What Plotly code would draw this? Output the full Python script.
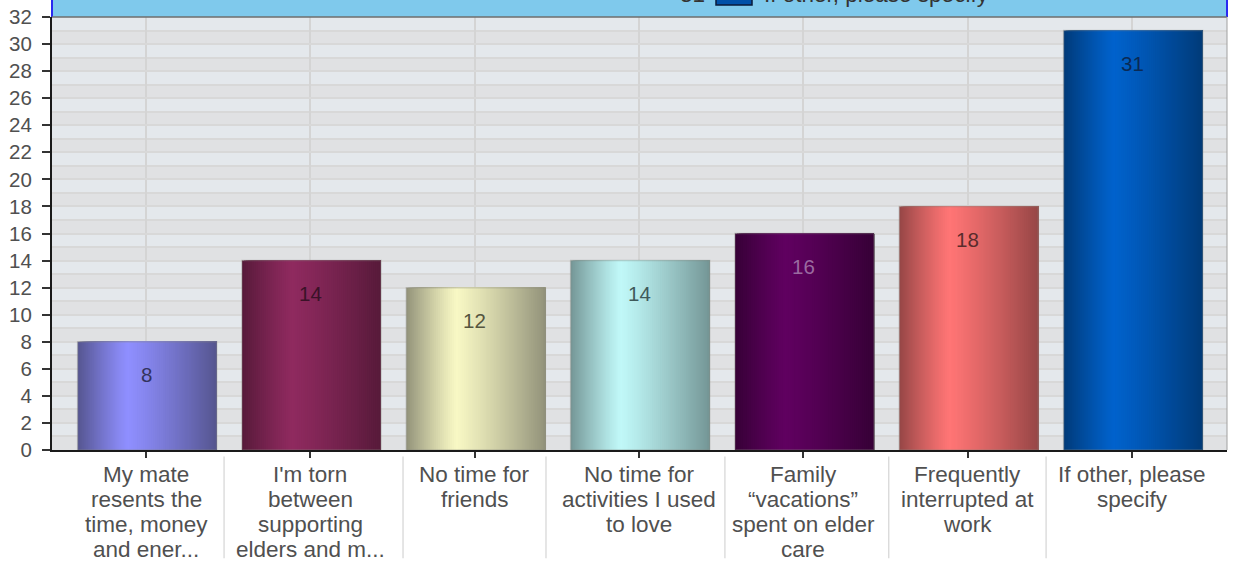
import plotly.graph_objects as go

categories = ["My mate<br>resents the<br>time, money<br>and ener...",
              "I'm torn<br>between<br>supporting<br>elders and m...",
              "No time for<br>friends",
              "No time for<br>activities I used<br>to love",
              "Family<br>“vacations”<br>spent on elder<br>care",
              "Frequently<br>interrupted at<br>work",
              "If other, please<br>specify"]
values = [8, 14, 12, 14, 16, 18, 31]
bright = ["#8F8FFF", "#8F2A5F", "#F8F8C4", "#C0F8F8", "#600060", "#FF7575", "#0062CC"]
dark = ["#55558F", "#571A3A", "#92927A", "#749696", "#360036", "#964646", "#003A78"]
label_colors = ["#33335E", "#3A1228", "#55553F", "#3F5A5A", "#9A6AA0", "#5A2C2C", "#0A2A55"]
y_ticks = list(range(0, 33, 2))
separators = [0.475, 1.564, 2.434, 3.523, 4.52, 5.477]
legend_count = "31"
legend_label = "If other, please specify"

FONT = "Liberation Sans, Arial, sans-serif"
TEXT = "#505050"
W, H = 1235, 563
L, R, T, B = 52, 8, 17, 113
PW = W - L - R
BAR = 0.846
N = 70


def hex2rgb(h):
    return tuple(int(h[i:i + 2], 16) for i in (1, 3, 5))


def mix(a, b, t):
    ca, cb = hex2rgb(a), hex2rgb(b)
    return "rgb(%d,%d,%d)" % tuple(round(x + (y - x) * t) for x, y in zip(ca, cb))


def strip_color(i, f):
    # highlight about a third of the way across each cylinder
    peak = 0.36
    t = (peak - f) / peak if f < peak else (f - peak) / (1 - peak)
    return mix(bright[i], dark[i], t ** 1.15)


fig = go.Figure()
# painted left to right: each strip runs to the bar's right edge, so no seams appear
for s in range(N):
    f = (s + 0.5) / N
    fig.add_bar(x=list(range(7)), y=values,
                width=BAR * (1 - s / N),
                offset=-0.416 + BAR * s / N,
                marker=dict(color=[strip_color(i, f) for i in range(7)], line_width=0),
                hoverinfo="skip", showlegend=False)
# thin soft outline of each bar
fig.add_bar(x=list(range(7)), y=values, width=BAR, offset=-0.416,
            marker=dict(color="rgba(0,0,0,0)", line=dict(color="rgba(135,135,125,0.35)", width=1.5)),
            hoverinfo="skip", showlegend=False)

shapes = []
for k in range(32):
    shapes.append(dict(type="rect", xref="paper", yref="y", x0=0, x1=1, y0=k, y1=k + 1,
                       fillcolor="#E4E8EC" if k % 2 else "#E0E1E3", line_width=0, layer="below"))
# blue legend panel clipped by the top of the picture
shapes.append(dict(type="rect", xref="paper", yref="paper", x0=0, x1=1, y0=1, y1=1.1,
                   fillcolor="#7FC9EC", line_width=0))
for x in (0, 1):
    shapes.append(dict(type="line", xref="paper", yref="paper", x0=x, x1=x, y0=1, y1=1.1,
                       line=dict(color="#2A2AF0", width=2)))
shapes.append(dict(type="line", xref="paper", yref="paper", x0=0, x1=1, y0=1, y1=1,
                   line=dict(color="#6E6E6E", width=1.5)))
shapes.append(dict(type="line", xref="paper", yref="paper", x0=1, x1=1, y0=0, y1=1,
                   line=dict(color="#A0A0A0", width=1)))
# legend swatch
shapes.append(dict(type="rect", xref="paper", yref="paper",
                   x0=(716 - L) / PW, x1=(752 - L) / PW,
                   y0=1 + 12 / (H - T - B), y1=1.1,
                   fillcolor="#0050A8", line=dict(color="#0A1A3A", width=1.5)))
# separators between category labels
for s in separators:
    shapes.append(dict(type="line", xref="x", yref="paper", x0=s, x1=s, y0=-0.015, y1=-0.25,
                       line=dict(color="rgba(170,170,170,0.6)", width=1)))
fig.update_layout(shapes=shapes)

annotations = [dict(x=i, y=v, xref="x", yref="y", text=str(v), showarrow=False, yshift=-33,
                    font=dict(family=FONT, size=20.5, color=label_colors[i]))
               for i, v in enumerate(values)]
annotations.append(dict(x=(680 - L) / PW, y=1, xref="paper", yref="paper", xanchor="left", yanchor="bottom",
                        yshift=8, xshift=-2, text=legend_count, showarrow=False,
                        font=dict(family=FONT, size=22.5, color="#333333")))
annotations.append(dict(x=(764 - L) / PW, y=1, xref="paper", yref="paper", xanchor="left", yanchor="bottom",
                        yshift=8, xshift=-2, text=legend_label, showarrow=False,
                        font=dict(family=FONT, size=22.5, color="#333333")))
# category labels, one line at a time: the reference's line pitch is tighter than Plotly's
for i, cat in enumerate(categories):
    for j, line in enumerate(cat.split("<br>")):
        annotations.append(dict(x=i, y=0, xref="x", yref="paper", yanchor="middle", text=line,
                                showarrow=False, yshift=-24 - 25 * j,
                                font=dict(family=FONT, size=22.5, color=TEXT)))

fig.update_layout(
    width=W, height=H, autosize=False,
    margin=dict(l=L, r=R, t=T, b=B, pad=0, autoexpand=False),
    paper_bgcolor="white", plot_bgcolor="#E2E4E7",
    barmode="overlay", showlegend=False,
    annotations=annotations,
    font=dict(family=FONT, size=20.5, color=TEXT),
    xaxis=dict(range=[-0.572, 6.578], tickmode="array", tickvals=list(range(7)), ticktext=categories,
               showticklabels=False, automargin=False,
               showgrid=True, gridcolor="#D4D4D4", gridwidth=2, zeroline=False,
               showline=True, linecolor="#1A1A1A", linewidth=2, ticks="outside", ticklen=6,
               tickwidth=2, tickcolor="#333333"),
    yaxis=dict(range=[0, 32], tickmode="array", tickvals=y_ticks, showgrid=True, gridcolor="#D8D8D8",
               gridwidth=2, zeroline=False, showline=True, linecolor="#1A1A1A", linewidth=2, automargin=False,
               ticks="outside", ticklen=8, tickwidth=2, tickcolor="#333333", ticklabelstandoff=6,
               minor=dict(dtick=1, showgrid=True, gridcolor="#D8D8D8", gridwidth=2, ticks=""),
               tickfont=dict(family=FONT, size=20.5, color=TEXT)),
)
fig.write_html("out.html", config=dict(displayModeBar=False),
               post_script="document.body.style.margin='0';document.documentElement.style.overflow='hidden';")
